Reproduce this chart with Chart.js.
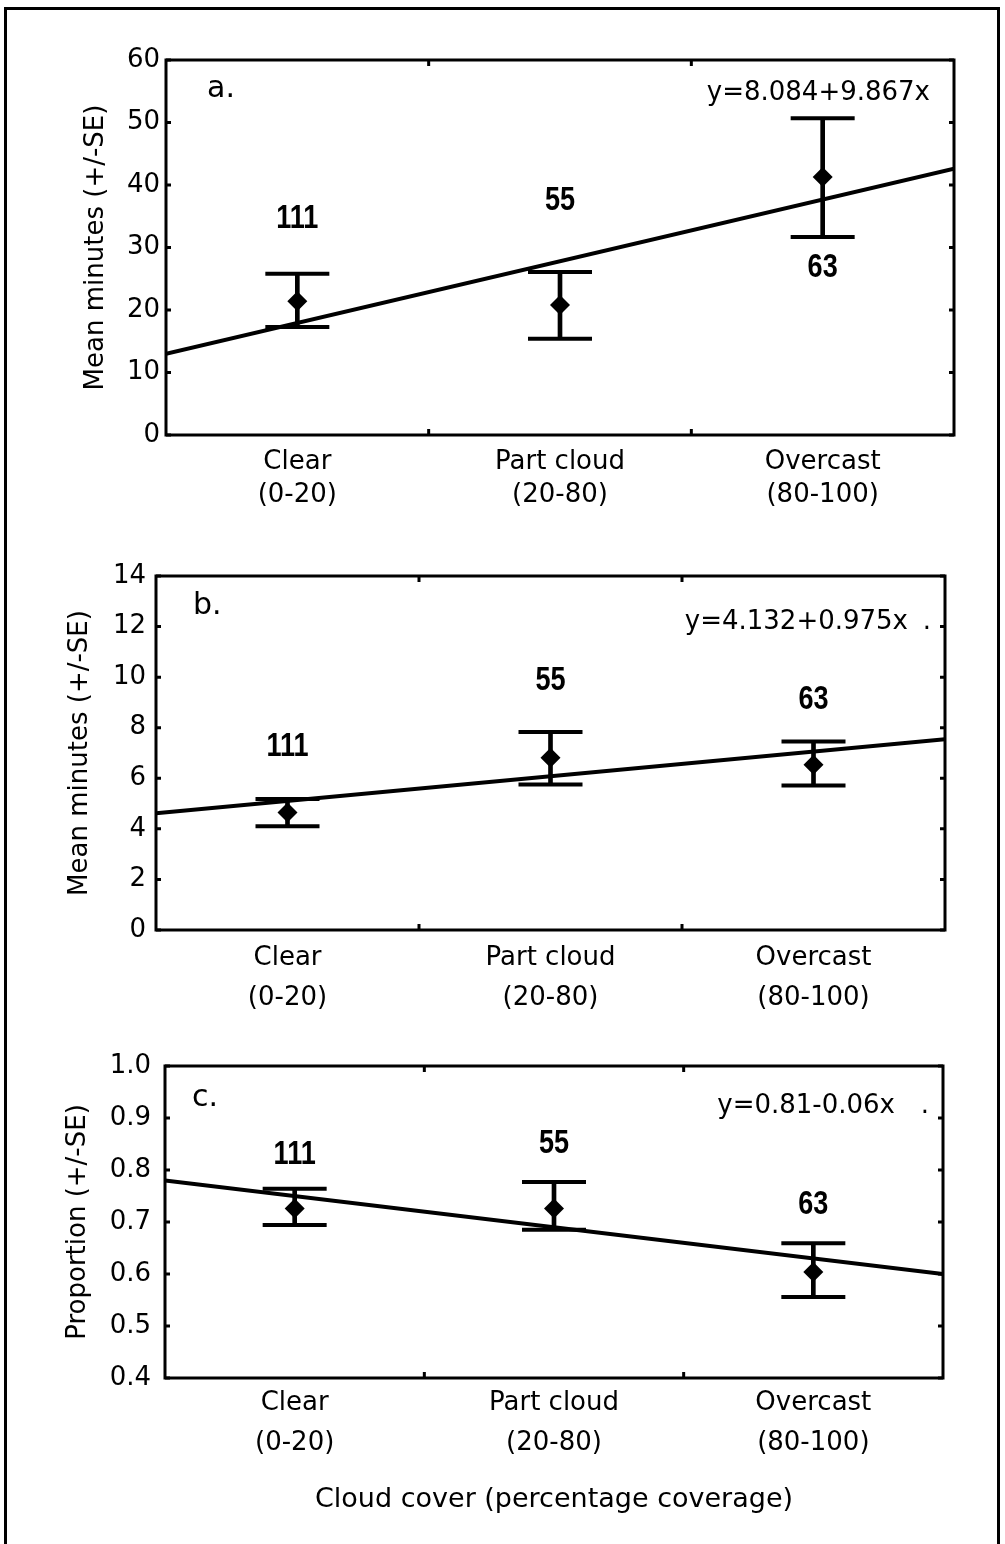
<!DOCTYPE html>
<html>
<head>
<meta charset="utf-8">
<script src="https://cdn.jsdelivr.net/npm/chart.js@4.4.1/dist/chart.umd.min.js"></script>
<style>
body { margin: 0; background: #fff; }
#page { position: relative; width: 1005px; height: 1544px; overflow: hidden; background: #fff; }
#frame { position: absolute; left: 4px; top: 7px; width: 990px; height: 1600px; border: 3px solid #000; }
canvas { position: absolute; left: 0; }
</style>
</head>
<body>
<div id="page">
  <div id="frame"></div>
  <canvas id="chartA" width="1005" height="540" style="top:0px"></canvas>
  <canvas id="chartB" width="1005" height="490" style="top:540px"></canvas>
  <canvas id="chartC" width="1005" height="514" style="top:1030px"></canvas>
</div>
<script>
// categories along the x axis
const categories = ['Clear', 'Part cloud', 'Overcast'];
const ranges = ['(0-20)', '(20-80)', '(80-100)'];
const sampleSizes = ['111', '55', '63'];

// panel a - mean minutes
const aMean = [21.4, 20.8, 41.3];
const aUpper = [25.8, 26.1, 50.7];
const aLower = [17.3, 15.4, 31.7];
const aFit = [13.0, 42.6];          // regression line at the two plot edges
const aCountAt = [34.5, 37.4, 26.8]; // where the n labels sit

// panel b - mean minutes
const bMean = [4.65, 6.81, 6.54];
const bUpper = [5.18, 7.83, 7.45];
const bLower = [4.10, 5.75, 5.71];
const bFit = [4.62, 7.54];
const bCountAt = [7.26, 9.84, 9.08];

// panel c - proportion
const cMean = [0.726, 0.726, 0.604];
const cUpper = [0.764, 0.777, 0.659];
const cLower = [0.694, 0.685, 0.556];
const cFit = [0.78, 0.60];
const cCountAt = [0.829, 0.850, 0.732];

Chart.defaults.font.family = '"DejaVu Sans", sans-serif';
Chart.defaults.font.size = 26;
Chart.defaults.color = '#000';

const panelDecor = {
    id: 'panelDecor',
    afterDraw(chart, args, opts) {
        const { ctx, chartArea: a } = chart;
        const x = chart.scales.x, y = chart.scales.y;
        ctx.save();
        ctx.strokeStyle = '#000';
        ctx.lineWidth = 3;
        ctx.strokeRect(a.left, a.top, a.right - a.left, a.bottom - a.top);

        // small inward tick marks on all four sides
        ctx.beginPath();
        [1.5, 2.5].forEach(v => {
            const px = x.getPixelForValue(v);
            ctx.moveTo(px, a.top); ctx.lineTo(px, a.top + 6);
            ctx.moveTo(px, a.bottom); ctx.lineTo(px, a.bottom - 6);
        });
        y.ticks.forEach(t => {
            const py = y.getPixelForValue(t.value);
            ctx.moveTo(a.left, py); ctx.lineTo(a.left + 5, py);
            ctx.moveTo(a.right, py); ctx.lineTo(a.right - 5, py);
        });
        ctx.stroke();

        ctx.fillStyle = '#000';
        ctx.textBaseline = 'middle';

        // sample sizes, bold condensed
        ctx.textAlign = 'center';
        ctx.font = 'bold 33px "Liberation Sans", sans-serif';
        opts.counts.forEach((c, i) => {
            ctx.save();
            ctx.translate(x.getPixelForValue(i + 1), y.getPixelForValue(opts.countAt[i]));
            ctx.scale(0.82, 1);
            ctx.fillText(c, 0, 0);
            ctx.restore();
        });

        ctx.textAlign = 'left';
        ctx.font = '30px "DejaVu Sans", sans-serif';
        ctx.fillText(opts.letter, a.left + opts.letterDx, a.top + opts.letterDy);

        ctx.textAlign = 'right';
        ctx.font = '26px "DejaVu Sans", sans-serif';
        ctx.fillText(opts.equation, a.right - opts.eqDx, a.top + opts.eqDy);
        if (opts.dot) ctx.fillText('.', a.right - 14, a.top + opts.eqDy);
        ctx.restore();
    }
};

function makePanel(canvasId, p) {
    const pts = arr => arr.map((v, i) => ({ x: i + 1, y: v }));
    const cfg = {
        type: 'scatter',
        data: {
            datasets: [
                {
                    label: 'Mean',
                    data: pts(p.mean),
                    pointStyle: 'rectRot',
                    pointRadius: 10,
                    backgroundColor: '#000',
                    borderColor: '#000',
                    borderWidth: 0
                },
                {
                    label: 'Upper SE',
                    data: pts(p.upper),
                    pointStyle: 'line',
                    pointRadius: 32,
                    borderColor: '#000',
                    borderWidth: 4
                },
                {
                    label: 'Lower SE',
                    data: pts(p.lower),
                    pointStyle: 'line',
                    pointRadius: 32,
                    borderColor: '#000',
                    borderWidth: 4
                },
                {
                    type: 'bar',
                    label: 'SE range',
                    data: p.lower.map((v, i) => ({ x: i + 1, y: [v, p.upper[i]] })),
                    barThickness: 4,
                    backgroundColor: '#000',
                    borderWidth: 0
                },
                {
                    type: 'line',
                    label: 'Fit',
                    data: [{ x: 0.5, y: p.fit[0] }, { x: 3.5, y: p.fit[1] }],
                    showLine: true,
                    borderColor: '#000',
                    borderWidth: 4,
                    pointRadius: 0,
                    tension: 0
                }
            ]
        },
        options: {
            responsive: false,
            animation: false,
            devicePixelRatio: 1,
            layout: { padding: p.padding },
            plugins: {
                legend: { display: false },
                tooltip: { enabled: false },
                panelDecor: {
                    counts: sampleSizes,
                    countAt: p.countAt,
                    letter: p.letter,
                    letterDx: p.letterDx,
                    letterDy: p.letterDy,
                    equation: p.equation,
                    eqDx: p.eqDx,
                    eqDy: p.eqDy,
                    dot: p.dot
                }
            },
            scales: {
                x: {
                    type: 'linear',
                    min: 0.5,
                    max: 3.5,
                    offset: false,
                    afterBuildTicks: scale => {
                        scale.ticks = [1, 2, 3].map(v => ({ value: v }));
                    },
                    afterFit: scale => { scale.height = p.xHeight; },
                    grid: { display: false, drawTicks: false, offset: false },
                    border: { display: false },
                    ticks: {
                        autoSkip: false,
                        maxRotation: 0,
                        padding: p.xPad,
                        font: { size: 26, lineHeight: p.xLine },
                        callback: v => [categories[v - 1], ranges[v - 1]]
                    },
                    title: p.xTitle ? {
                        display: true,
                        text: p.xTitle,
                        font: { size: 27 },
                        padding: { top: 0, bottom: p.xTitlePad }
                    } : { display: false }
                },
                y: {
                    min: p.yMin,
                    max: p.yMax,
                    afterFit: scale => { scale.width = p.yWidth; },
                    grid: { display: false, drawTicks: false },
                    border: { display: false },
                    ticks: {
                        stepSize: p.yStep,
                        padding: p.yPad,
                        callback: v => p.yDecimals ? v.toFixed(p.yDecimals) : v
                    },
                    title: {
                        display: true,
                        text: p.yTitle,
                        font: { size: 26 },
                        padding: { top: 4, bottom: 0 }
                    }
                }
            }
        },
        plugins: [panelDecor]
    };
    return new Chart(document.getElementById(canvasId), cfg);
}

makePanel('chartA', {
    mean: aMean, upper: aUpper, lower: aLower, fit: aFit, countAt: aCountAt,
    yMin: 0, yMax: 60, yStep: 10, yDecimals: 0,
    yTitle: 'Mean minutes (+/-SE)',
    padding: { left: 77, right: 51, top: 60, bottom: 25 },
    yWidth: 89, yPad: 6, xHeight: 80, xPad: 10, xLine: 1.3,
    letter: 'a.', letterDx: 41, letterDy: 29,
    equation: 'y=8.084+9.867x', eqDx: 24, eqDy: 33, dot: false
});

makePanel('chartB', {
    mean: bMean, upper: bUpper, lower: bLower, fit: bFit, countAt: bCountAt,
    yMin: 0, yMax: 14, yStep: 2, yDecimals: 0,
    yTitle: 'Mean minutes (+/-SE)',
    padding: { left: 61, right: 60, top: 20, bottom: 10 },
    yWidth: 95, yPad: 10, xHeight: 90, xPad: 8, xLine: 1.54,
    letter: 'b.', letterDx: 37, letterDy: 30,
    equation: 'y=4.132+0.975x', eqDx: 37, eqDy: 46, dot: true
});

makePanel('chartC', {
    mean: cMean, upper: cUpper, lower: cLower, fit: cFit, countAt: cCountAt,
    yMin: 0.4, yMax: 1.0, yStep: 0.1, yDecimals: 1,
    yTitle: 'Proportion (+/-SE)',
    padding: { left: 59, right: 62, top: 27, bottom: 0 },
    yWidth: 106, yPad: 14, xHeight: 166, xPad: 5, xLine: 1.54,
    xTitle: 'Cloud cover (percentage coverage)', xTitlePad: 28,
    letter: 'c.', letterDx: 27, letterDy: 32,
    equation: 'y=0.81-0.06x', eqDx: 48, eqDy: 40, dot: true
});
</script>
</body>
</html>
